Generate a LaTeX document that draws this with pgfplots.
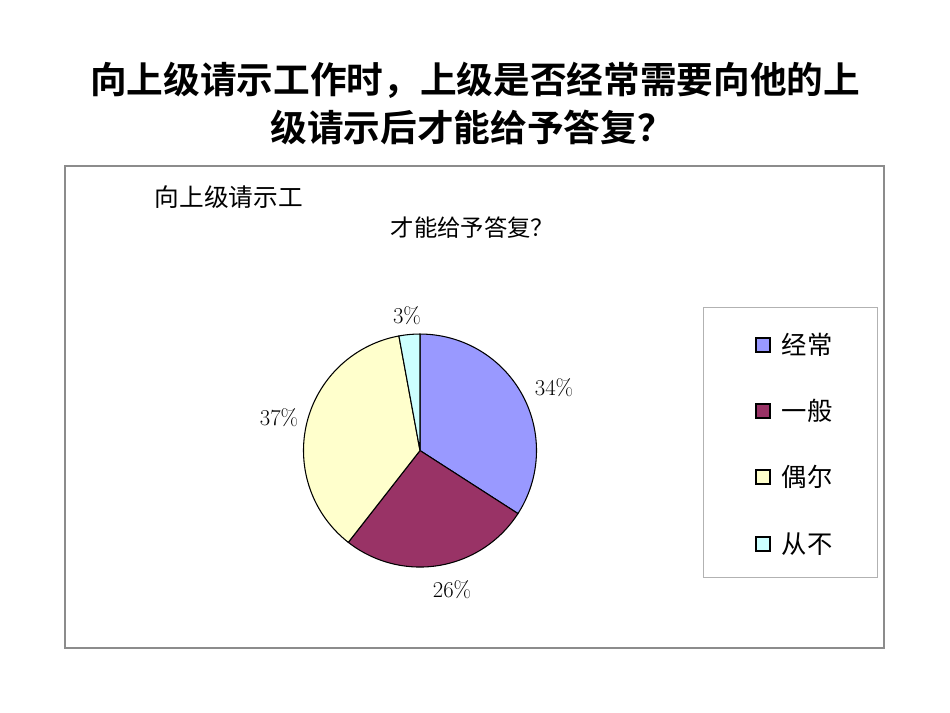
\documentclass[border=0pt]{standalone}
\usepackage{pgfplots}
\pgfplotsset{compat=1.18}
\usepgfplotslibrary{polar}
\usepackage{fontspec}
\newfontfamily\cjk{Noto Sans CJK SC}
\newfontfamily\cjkb{Noto Sans CJK SC Bold}
\definecolor{cA}{HTML}{9999FF}
\definecolor{cB}{HTML}{993366}
\definecolor{cC}{HTML}{FFFFCC}
\definecolor{cD}{HTML}{CCFFFF}
% shares in percent (clockwise from top): 经常, 一般, 偶尔, 从不
\def\pA{34.1}\def\pB{26.45}\def\pC{36.55}\def\pD{2.9}
\pgfmathsetmacro\aA{90}
\pgfmathsetmacro\aB{90-3.6*\pA}
\pgfmathsetmacro\aC{\aB-3.6*\pB}
\pgfmathsetmacro\aD{\aC-3.6*\pC}
\pgfmathsetmacro\aE{\aD-3.6*\pD}
\begin{document}%
\begin{tikzpicture}[x=0.75pt,y=-0.75pt]
\fill[white] (0,0) rectangle (950,713);
% title
\node[font=\cjkb\fontsize{27.5}{32}\selectfont] at (475,80) {向上级请示工作时，上级是否经常需要向他的上};
\node[font=\cjkb\fontsize{27.5}{32}\selectfont] at (472,127) {级请示后才能给予答复？};
% chart frame
\draw[draw=gray!90, line width=0.8pt] (65,166) rectangle (884,648);
\node[font=\cjk\fontsize{18.5}{22}\selectfont, anchor=west] at (150,197) {向上级请示工};
\node[font=\cjk\fontsize{17.5}{22}\selectfont, anchor=west] at (386,228) {才能给予答复？};
\begin{polaraxis}[
  at={(315pt,-337.9pt)}, anchor=center,
  scale only axis, width=174.75pt, height=174.75pt,
  hide axis, ymin=0, ymax=1, clip=false]
\addplot[fill=cA, draw=black, line width=0.8pt, domain=\aB:\aA, samples=80] {1} -- (axis cs:0,0) -- cycle;
\addplot[fill=cB, draw=black, line width=0.8pt, domain=\aC:\aB, samples=80] {1} -- (axis cs:0,0) -- cycle;
\addplot[fill=cC, draw=black, line width=0.8pt, domain=\aD:\aC, samples=80] {1} -- (axis cs:0,0) -- cycle;
\addplot[fill=cD, draw=black, line width=0.8pt, domain=\aE:\aD, samples=10] {1} -- (axis cs:0,0) -- cycle;
\end{polaraxis}
% data labels
\node[font=\fontsize{17}{20}\selectfont] at (554,388) {34\%};
\node[font=\fontsize{17}{20}\selectfont] at (452,590) {26\%};
\node[font=\fontsize{17}{20}\selectfont] at (279,418) {37\%};
\node[font=\fontsize{17}{20}\selectfont] at (407,316) {3\%};
% legend
\draw[draw=gray!60, line width=0.6pt] (703,307) rectangle (877,577);
\foreach \c/\t/\y in {cA/经常/345, cB/一般/411, cC/偶尔/477, cD/从不/544}{
  \filldraw[fill=\c, draw=black, line width=0.8pt] (756,\y-7) rectangle (770,\y+7);
  \node[font=\cjk\fontsize{19}{22}\selectfont, anchor=west] at (777,\y) {\t};
}
\pgfresetboundingbox
\useasboundingbox (0,0) rectangle (950,713);
\end{tikzpicture}%
\end{document}
